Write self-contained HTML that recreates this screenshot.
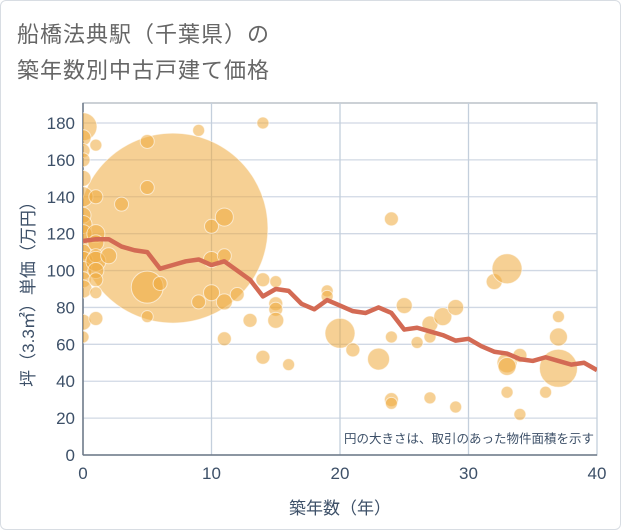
<!DOCTYPE html>
<html><head><meta charset="utf-8"><style>
html,body{margin:0;padding:0;background:#fff;}
body{width:621px;height:530px;overflow:hidden;font-family:"Liberation Sans","Noto Sans CJK JP",sans-serif;}
#card{position:absolute;left:0;top:0;width:619px;height:528px;border:1px solid #d8dde3;border-radius:6px;}
.title{position:absolute;left:17px;font-size:22px;color:#666;letter-spacing:1px;white-space:nowrap;}
svg{position:absolute;left:0;top:0;}
</style></head><body>
<div id="card"></div>
<div class="title" style="top:17px">船橋法典駅（千葉県）の</div>
<div class="title" style="top:53px">築年数別中古戸建て価格</div>
<svg id="chart" width="621" height="530"></svg>
<script>
const xTicks=[0,10,20,30,40];
const yTicks=[0,20,40,60,80,100,120,140,160,180];
const lineYears=[0,1,2,3,4,5,6,7,8,9,10,11,12,13,14,15,16,17,18,19,20,21,22,23,24,25,26,27,28,29,30,31,32,33,34,35,36,37,38,39,40];
const lineValues=[116,117,117,113,111,110,101,103,105,106,103,105,100,95,86,90,89,82,79,84,81,78,77,80,77,68,69,67,65,62,63,59,56,55,52,51,53,51,49,50,46];
const bubbleX=[7,0,0,0,0,0,0,0,0,0,0,0,0,0,0,0,0,1,1,1,1,1,1,1,1,1,1,2,3,5,5,5,5,6,9,9,10,10,10,11,11,11,11,12,13,14,14,14,15,15,15,15,16,19,19,20,21,23,24,24,24,24,25,26,27,27,27,28,29,29,32,33,33,33,33,34,34,36,37,37,37];
const bubbleY=[123,178,172,165,160,150,140,130,125,120,110,105,100,95,90,72,64,168,140,120,115,108,105,100,95,88,74,108,136,170,145,91,75,93,176,83,124,106,88,129,108,83,63,87,73,180,95,53,94,82,79,73,49,89,86,66,57,52,128,30,28,64,81,61,71,64,31,75,80,26,94,101,50,48,34,54,22,34,75,64,47];
const bubbleR=[95,14,8,7,7,8,10,8,9,9,8,10,9,8,9,8,6,6,7,9,8,7,10,8,7,6,7,8,7,7,7,16,6,7,6,7,7,8,8,9,7,8,7,7,7,6,7,7,6,7,7,8,6,6,6,15,7,11,7,7,6,6,8,6,8,6,6,9,8,6,8,15,10,9,6,7,6,6,6,9,19];
const L=83,R=597,T=103,B=455;
const xs=v=>L+(R-L)*v/40;
const ys=v=>B-(B-123)*v/180;
const svg=document.getElementById('chart');
const NS='http://www.w3.org/2000/svg';
function mk(t,a){const e=document.createElementNS(NS,t);for(const k in a)e.setAttribute(k,a[k]);svg.appendChild(e);return e;}
let e=mk('rect',{x:L,y:T,width:R-L,height:B-T,fill:'#fff',stroke:'#9aa3ae','stroke-width':1});


yTicks.forEach(v=>{
 let g=mk('line',{x1:L,x2:R,y1:ys(v),y2:ys(v),stroke:'#d0d8e4','stroke-width':1.3});
 
 
 let t=mk('text',{x:L-8,y:ys(v)+6,'text-anchor':'end','font-size':17,fill:'#3d5068'});
 t.textContent=v;
 
 
});
xTicks.forEach(v=>{
 let g=mk('line',{x1:xs(v),x2:xs(v),y1:T,y2:B,stroke:'#c4cfdc','stroke-width':1.3});
 
 
 let t=mk('text',{x:xs(v),y:B+24,'text-anchor':'middle','font-size':17,fill:'#3d5068'});
 t.textContent=v;
 
 
});
e=mk('line',{x1:L,x2:L,y1:T,y2:B,stroke:'#6b7785','stroke-width':1.5});


e=mk('line',{x1:L,x2:R,y1:B,y2:B,stroke:'#6b7785','stroke-width':1.5});


const clip=mk('clipPath',{id:'pc'});
const cr=document.createElementNS(NS,'rect');cr.setAttribute('x',L);cr.setAttribute('y',T);cr.setAttribute('width',R-L);cr.setAttribute('height',B-T);clip.appendChild(cr);
const gb=mk('g',{'clip-path':'url(#pc)'});
bubbleX.forEach((x,i)=>{
 const c=document.createElementNS(NS,'circle');
 c.setAttribute('cx',xs(x));c.setAttribute('cy',ys(bubbleY[i]));c.setAttribute('r',bubbleR[i]);
 c.setAttribute('fill','rgba(238,170,60,0.55)');
 c.setAttribute('stroke','rgba(255,255,255,0.6)');
 c.setAttribute('stroke-width','1');
 
 
 gb.appendChild(c);
});
e=mk('polyline',{points:lineYears.map((x,i)=>xs(x)+','+ys(lineValues[i])).join(' '),fill:'none',stroke:'#d36a54','stroke-width':4.5,'stroke-linejoin':'round','clip-path':'url(#pc)'});


e=mk('text',{x:R-3,y:443,'text-anchor':'end','font-size':12.5,fill:'#3d5068'});
e.textContent='円の大きさは、取引のあった物件面積を示す';


e=mk('text',{x:340,y:514,'text-anchor':'middle','font-size':17,fill:'#3d5068'});
e.textContent='築年数（年）';


e=mk('text',{x:0,y:0,'text-anchor':'middle','font-size':17,fill:'#3d5068',transform:'translate(34,290) rotate(-90)'});
e.textContent='坪（3.3㎡）単価（万円）';


</script>
</body></html>
